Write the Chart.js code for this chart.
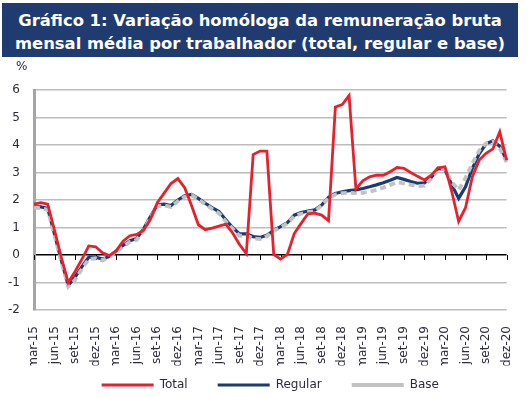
<!DOCTYPE html>
<html lang="pt">
<head>
<meta charset="UTF-8">
<title>Gráfico 1: Variação homóloga da remuneração bruta</title>
<script src="https://cdn.jsdelivr.net/npm/chart.js"></script>
<style>
  html, body { margin: 0; padding: 0; background: #fff; }
  #wrap { position: relative; width: 529px; height: 398px; overflow: hidden; }
  #grafico { position: absolute; left: 0; top: 0; }
  #titulo {
    position: absolute; left: 2px; top: 3px; width: 516px; height: 54px;
    background: #1f3b70; color: #fff; box-sizing: border-box; padding-top: 6px;
    font-family: "DejaVu Sans", sans-serif; font-weight: bold; font-size: 16.4px;
    line-height: 23px; text-align: center;
  }
  #unidade { position: absolute; left: 16px; top: 59px; font: 12px "DejaVu Sans", sans-serif; color: #2b2b3b; }
</style>
</head>
<body>
<div id="wrap">
  <canvas id="grafico" width="529" height="398"></canvas>
  <div id="titulo">Gráfico 1: Variação homóloga da remuneração bruta<br>mensal média por trabalhador (total, regular e base)</div>
  <div id="unidade">%</div>
</div>

<script>
// meses de mar-15 a dez-20
const meses = [
  'mar-15','abr-15','mai-15','jun-15','jul-15','ago-15','set-15','out-15','nov-15','dez-15',
  'jan-16','fev-16','mar-16','abr-16','mai-16','jun-16','jul-16','ago-16','set-16','out-16','nov-16','dez-16',
  'jan-17','fev-17','mar-17','abr-17','mai-17','jun-17','jul-17','ago-17','set-17','out-17','nov-17','dez-17',
  'jan-18','fev-18','mar-18','abr-18','mai-18','jun-18','jul-18','ago-18','set-18','out-18','nov-18','dez-18',
  'jan-19','fev-19','mar-19','abr-19','mai-19','jun-19','jul-19','ago-19','set-19','out-19','nov-19','dez-19',
  'jan-20','fev-20','mar-20','abr-20','mai-20','jun-20','jul-20','ago-20','set-20','out-20','nov-20','dez-20'
];

const total = [
  1.85, 1.9, 1.85, 0.9, -0.1, -1.0, -0.6, -0.15, 0.33, 0.3,
  0.08, -0.02, 0.15, 0.5, 0.7, 0.75, 0.9, 1.3, 1.9, 2.25, 2.6, 2.78,
  2.45, 1.8, 1.1, 0.92, 0.98, 1.05, 1.12, 0.8, 0.38, 0.05, 3.65, 3.78,
  3.78, 0.02, -0.15, 0.02, 0.78, 1.15, 1.5, 1.52, 1.45, 1.25, 5.38, 5.47,
  5.8, 2.4, 2.7, 2.84, 2.9, 2.9, 3.03, 3.18, 3.15, 3.0, 2.86, 2.73,
  2.9, 3.17, 3.21, 2.3, 1.22, 1.72, 2.85, 3.45, 3.7, 3.86, 4.48, 3.45
];

const regular = [
  1.75, 1.75, 1.7, 0.75, -0.2, -1.1, -0.8, -0.42, -0.08, -0.08,
  -0.15, -0.05, 0.15, 0.35, 0.52, 0.6, 0.95, 1.4, 1.82, 1.85, 1.8, 2.0,
  2.15, 2.2, 2.06, 1.88, 1.72, 1.58, 1.28, 1.0, 0.77, 0.77, 0.67, 0.64,
  0.72, 0.9, 1.03, 1.18, 1.45, 1.54, 1.6, 1.64, 1.82, 2.1, 2.24, 2.3,
  2.34, 2.37, 2.42, 2.48, 2.55, 2.63, 2.72, 2.82, 2.75, 2.67, 2.61, 2.62,
  2.82, 3.15, 3.1, 2.55, 2.06, 2.48, 3.15, 3.68, 4.04, 4.15, 3.95, 3.45
];

const base = [
  1.72, 1.7, 1.65, 0.7, -0.25, -1.15, -0.9, -0.5, -0.15, -0.12,
  -0.2, -0.05, 0.12, 0.3, 0.48, 0.55, 0.9, 1.35, 1.78, 1.8, 1.75, 1.95,
  2.12, 2.18, 2.02, 1.85, 1.68, 1.52, 1.22, 0.95, 0.7, 0.72, 0.6, 0.58,
  0.68, 0.88, 1.0, 1.15, 1.42, 1.5, 1.56, 1.6, 1.8, 2.08, 2.2, 2.25,
  2.26, 2.25, 2.26, 2.3, 2.37, 2.45, 2.55, 2.65, 2.6, 2.55, 2.5, 2.52,
  2.78, 3.12, 3.12, 2.65, 2.36, 2.8, 3.33, 3.8, 4.06, 4.12, 3.88, 3.38
];

const fonte = { family: 'DejaVu Sans', size: 12 };
const corTexto = '#2b2b3b';

// pequenas marcas na linha do zero, a cada 3 meses
const marcasZero = {
  id: 'marcasZero',
  beforeDatasetsDraw(chart) {
    const x = chart.scales.x, y = chart.scales.y;
    const y0 = y.getPixelForValue(0);
    const ctx = chart.ctx;
    ctx.save();
    ctx.strokeStyle = '#000';
    ctx.lineWidth = 1;
    meses.forEach((m, i) => {
      if (i % 3 !== 0) return;
      const px = Math.round(x.getPixelForValue(i)) + 0.5;
      ctx.beginPath();
      ctx.moveTo(px, y0);
      ctx.lineTo(px, y0 + 5);
      ctx.stroke();
    });
    ctx.restore();
  }
};

new Chart(document.getElementById('grafico'), {
  type: 'line',
  data: {
    labels: meses,
    datasets: [
      { label: 'Total', data: total, borderColor: '#e8202e', borderWidth: 2.8, pointRadius: 0, tension: 0, order: 0 },
      { label: 'Regular', data: regular, borderColor: '#1c3b73', borderWidth: 3.2, pointRadius: 0, tension: 0, order: 2 },
      { label: 'Base', data: base, borderColor: '#c2c2c2', borderWidth: 3.8, borderDash: [6, 4], pointRadius: 0, tension: 0, order: 1 }
    ]
  },
  options: {
    responsive: false,
    animation: false,
    layout: { padding: { left: 0, right: 16, top: 90, bottom: -3 } },
    plugins: {
      legend: {
        position: 'bottom',
        fullSize: false,
        // titulo vazio com margem negativa para aproximar a legenda do eixo
        title: { display: true, text: '', padding: { top: 0, bottom: -31 } },
        labels: {
          usePointStyle: true, pointStyle: 'line', pointStyleWidth: 52, boxHeight: 12,
          padding: 30, color: corTexto, font: fonte,
          sort: (a, b) => a.datasetIndex - b.datasetIndex
        }
      },
      tooltip: { enabled: false }
    },
    scales: {
      x: {
        grid: { display: false },
        border: { display: false },
        ticks: {
          autoSkip: false, minRotation: 90, maxRotation: 90, padding: 8,
          color: corTexto, font: fonte,
          callback: (v, i) => (i % 3 === 0 ? meses[i] : '')
        },
        afterFit(s) { s.height = 55.6; }
      },
      y: {
        min: -2, max: 6,
        ticks: { stepSize: 1, padding: 14, color: corTexto, font: fonte },
        grid: {
          drawTicks: false,
          color: c => (c.tick.value === 0 ? '#000' : '#bdbdbd'),
          lineWidth: 1.5
        },
        border: { color: '#a6a6a6', width: 3 },
        afterFit(s) { s.width = 34; }
      }
    }
  },
  plugins: [marcasZero]
});
</script>
</body>
</html>
